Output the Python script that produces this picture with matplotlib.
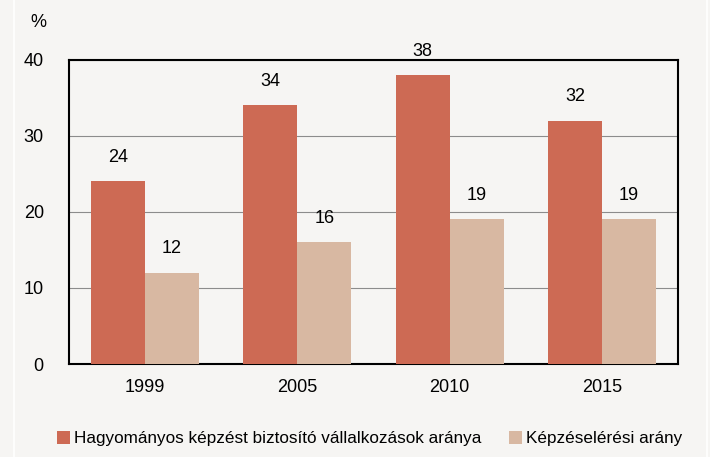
import matplotlib
matplotlib.use("Agg")
import matplotlib.pyplot as plt
from matplotlib.lines import Line2D
import numpy as np

years = ["1999", "2005", "2010", "2015"]
traditional = [24, 34, 38, 32]
access = [12, 16, 19, 19]
labels = ["Hagyományos képzést biztosító vállalkozások aránya", "Képzéselérési arány"]
colors = ["#cd6a54", "#d8b8a2"]

plt.rcParams['font.family'] = ['Liberation Sans', 'DejaVu Sans']
fig = plt.figure(figsize=(7.1, 4.57), dpi=100, facecolor="#f6f5f3")
ax = fig.add_axes([0.097, 0.2035, 0.858, 0.666])
ax.set_facecolor("#f6f5f3")

# faint panel edge lines
for xf in (13.5 / 710, 706.5 / 710):
    fig.add_artist(Line2D([xf, xf], [0, 1], transform=fig.transFigure, color="white", linewidth=1.2))

x = np.arange(len(years))
w = 0.355
b1 = ax.bar(x - w/2, traditional, w, color=colors[0], label=labels[0], zorder=3)
b2 = ax.bar(x + w/2, access, w, color=colors[1], label=labels[1], zorder=3)
for bars, vals in ((b1, traditional), (b2, access)):
    for rect, v in zip(bars, vals):
        ax.text(rect.get_x() + rect.get_width()/2, v + 2.0, str(v), ha="center", va="bottom", fontsize=13, zorder=4)

ax.set_ylim(0, 40)
ax.set_xlim(-0.5, 3.5)
ax.set_yticks([0, 10, 20, 30, 40])
ax.set_xticks(x)
ax.set_xticklabels(years)
ax.tick_params(axis="both", length=0, labelsize=13)
ax.tick_params(axis="y", pad=18)
ax.tick_params(axis="x", pad=11)
ax.yaxis.grid(True, color="#8c8c8c", linewidth=0.8, zorder=0)
for s in ax.spines.values():
    s.set_linewidth(1.5)
    s.set_color("black")
fig.text(0.054, 0.95, "%", fontsize=13, ha="center", va="center")

fig.legend(handles=[b1, b2], labels=labels, loc="center", bbox_to_anchor=(0.521, 0.04), ncol=2, frameon=False,
           fontsize=12.3, handlelength=0.75, handleheight=0.75, handletextpad=0.25, columnspacing=1.6)
fig.savefig("out.png", dpi=100, facecolor=fig.get_facecolor())
